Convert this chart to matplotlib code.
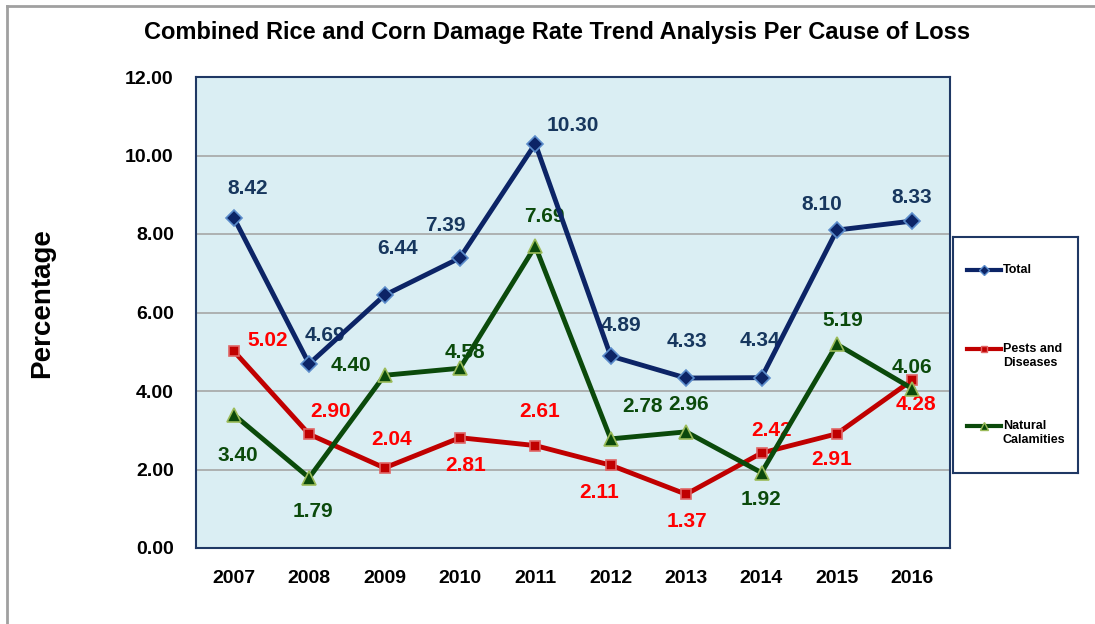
import matplotlib
matplotlib.use("Agg")
import matplotlib.pyplot as plt
from matplotlib.lines import Line2D

plt.rcParams["font.family"] = ["Liberation Sans", "DejaVu Sans"]
plt.rcParams["font.weight"] = "bold"

years = ["2007", "2008", "2009", "2010", "2011", "2012", "2013", "2014", "2015", "2016"]
total = [8.42, 4.69, 6.44, 7.39, 10.30, 4.89, 4.33, 4.34, 8.10, 8.33]
pests = [5.02, 2.90, 2.04, 2.81, 2.61, 2.11, 1.37, 2.42, 2.91, 4.28]
natural = [3.40, 1.79, 4.40, 4.58, 7.69, 2.78, 2.96, 1.92, 5.19, 4.06]
names = ["Total", "Pests and\nDiseases", "Natural\nCalamities"]

# label offsets in pixels (dx, dy)
total_off = [(14, 29), (16, 28), (13, 47), (-15, 32), (38, 18),
             (10, 31), (1, 37), (-2, 37), (-15, 26), (-1, 24)]
pests_off = [(34, 10), (21, 23), (7, 28), (6, -28), (4, 34),
             (-12, -27), (1, -27), (10, 23), (-5, -26), (4, -24)]
natural_off = [(4, -41), (4, -34), (-34, 10), (5, 16), (9, 30),
               (32, 32), (2, 27), (0, -27), (6, 24), (0, 21)]

fig = plt.figure(figsize=(10.95, 6.24), dpi=100)
W, H = 1095, 624
ax = fig.add_axes([196 / W, 1 - 548 / H, (950 - 196) / W, (548 - 77) / H])
ax.set_facecolor("#DAEEF3")

x = list(range(len(years)))

styles = [
    ("#0C2466", "D", "#0C2466", "#5B8CCB", 8, "#17375E"),
    ("#C00000", "s", "#C00000", "#E06666", 7, "#FF0000"),
    ("#0B4A0B", "^", "#0B4A0B", "#9BBB59", 10, "#0B4A0B"),
]

for vals, offs, (lc, mk, mfc, mec, ms, tc) in zip([total, pests, natural],
                                                  [total_off, pests_off, natural_off], styles):
    ax.plot(x, vals, color=lc, lw=3.5, marker=mk, ms=ms, mfc=mfc, mec=mec,
            mew=1.2, zorder=3)
    for xi, v, (dx, dy) in zip(x, vals, offs):
        ax.annotate(f"{v:.2f}", (xi, v), xytext=(dx, dy), textcoords="offset pixels",
                    ha="center", va="center", fontsize=15, fontweight="bold",
                    color=tc, zorder=2)

ax.set_xlim(-0.5, 9.5)
ax.set_ylim(0, 12)
yt = [0, 2, 4, 6, 8, 10, 12]
ax.set_yticks(yt)
ax.set_yticklabels([f"{t:.2f}" for t in yt])
ax.set_xticks(x)
ax.set_xticklabels(years)
ax.tick_params(axis="x", length=0, labelsize=14, pad=16)
ax.tick_params(axis="y", length=0, labelsize=14, pad=16)
for lab in ax.get_xticklabels() + ax.get_yticklabels():
    lab.set_fontweight("bold")
ax.grid(axis="y", color="#A6A6A6", lw=1.2)
ax.set_axisbelow(True)
for sp in ax.spines.values():
    sp.set_color("#1F3864")
    sp.set_linewidth(1.5)

fig.text(557 / W, 1 - 32 / H, "Combined Rice and Corn Damage Rate Trend Analysis Per Cause of Loss",
         ha="center", va="center", fontsize=17, fontweight="bold")
fig.text(42 / W, 1 - 303 / H, "Percentage", rotation=90, ha="center", va="center",
         fontsize=20, fontweight="bold")

# legend box drawn in its own axes
lx0, ly0, lx1, ly1 = 953, 237, 1078, 473
lax = fig.add_axes([lx0 / W, 1 - ly1 / H, (lx1 - lx0) / W, (ly1 - ly0) / H])
lax.set_xlim(lx0, lx1)
lax.set_ylim(ly1, ly0)
lax.set_xticks([])
lax.set_yticks([])
for sp in lax.spines.values():
    sp.set_color("#1F3864")
    sp.set_linewidth(1.5)
for yy, name, (lc, mk, mfc, mec, ms, tc) in zip([270, 349, 426], names, styles):
    lax.plot([967, 1001], [yy, yy], color=lc, lw=3)
    lax.plot([984], [yy], marker=mk, ms=ms * 0.6, mfc=mfc, mec=mec, mew=1, color=lc)
    lax.text(1003, yy - 6, name, ha="left", va="top", fontsize=9, fontweight="bold",
             linespacing=1.2)

# outer border (left and top)
fig.add_artist(Line2D([7 / W, 7 / W], [0, 1 - 6 / H], color="#A0A0A0", lw=2,
                      transform=fig.transFigure))
fig.add_artist(Line2D([7 / W, 1], [1 - 6 / H, 1 - 6 / H], color="#A0A0A0", lw=2,
                      transform=fig.transFigure))

fig.savefig("out.png", dpi=100)
